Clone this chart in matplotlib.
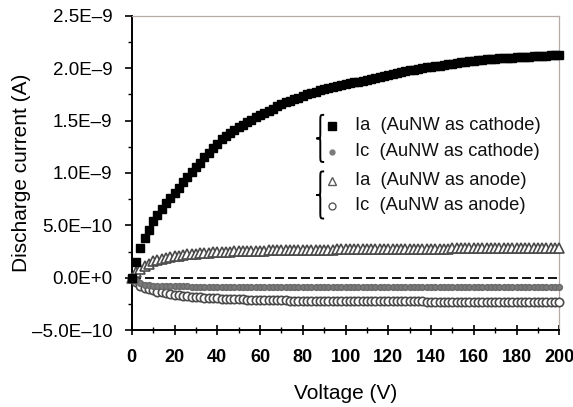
import numpy as np
import matplotlib
matplotlib.use("Agg")
import matplotlib.pyplot as plt
from matplotlib.path import Path
from matplotlib.patches import PathPatch

plt.rcParams['font.family'] = ['Liberation Sans', 'DejaVu Sans']

# Voltage, every 2 V
voltage = np.arange(0, 201, 2)

# Currents in units of 1E-10 A
ia_cathode = [0.0, 1.5, 2.8, 3.75, 4.6, 5.4, 6.0, 6.6, 7.1, 7.6,
              8.1, 8.6, 9.1, 9.6, 10.1, 10.6, 11.0, 11.5, 11.95, 12.4,
              12.8, 13.2, 13.5, 13.8, 14.1, 14.35, 14.6, 14.85, 15.1, 15.3,
              15.5, 15.7, 15.9, 16.1, 16.35, 16.55, 16.75, 16.9, 17.05, 17.2,
              17.35, 17.5, 17.6, 17.75, 17.9, 18.0, 18.1, 18.2, 18.3, 18.4,
              18.5, 18.6, 18.65, 18.7, 18.8, 18.9, 19.0, 19.1, 19.2, 19.3,
              19.4, 19.45, 19.55, 19.6, 19.7, 19.8, 19.85, 19.9, 20.0, 20.1,
              20.15, 20.2, 20.25, 20.3, 20.4, 20.45, 20.5, 20.55, 20.6, 20.65,
              20.7, 20.75, 20.8, 20.85, 20.9, 20.92, 20.95, 20.98, 21.0, 21.02,
              21.05, 21.07, 21.1, 21.12, 21.14, 21.16, 21.18, 21.2, 21.22, 21.24,
              21.25]

ic_cathode = [0.0, -0.35, -0.55, -0.65, -0.72, -0.76, -0.78, -0.8, -0.81, -0.82,
              -0.82, -0.83, -0.83, -0.83, -0.84, -0.84, -0.84, -0.84, -0.84, -0.84,
              -0.85, -0.85, -0.85, -0.85, -0.85, -0.85, -0.85, -0.85, -0.85, -0.85,
              -0.85, -0.85, -0.85, -0.85, -0.85, -0.85, -0.85, -0.85, -0.86, -0.86,
              -0.86, -0.86, -0.86, -0.86, -0.86, -0.86, -0.86, -0.86, -0.86, -0.86,
              -0.86, -0.86, -0.86, -0.86, -0.86, -0.86, -0.86, -0.86, -0.86, -0.86,
              -0.86, -0.86, -0.86, -0.86, -0.86, -0.86, -0.86, -0.86, -0.87, -0.87,
              -0.87, -0.87, -0.87, -0.87, -0.87, -0.87, -0.87, -0.87, -0.87, -0.87,
              -0.87, -0.87, -0.87, -0.87, -0.87, -0.87, -0.87, -0.87, -0.87, -0.87,
              -0.87, -0.87, -0.87, -0.87, -0.87, -0.87, -0.87, -0.87, -0.87, -0.87,
              -0.87]

ia_anode = [0.0, 0.5, 0.85, 1.15, 1.35, 1.55, 1.7, 1.8, 1.9, 2.0,
            2.05, 2.12, 2.18, 2.23, 2.27, 2.31, 2.34, 2.37, 2.4, 2.42,
            2.44, 2.46, 2.48, 2.5, 2.51, 2.53, 2.54, 2.55, 2.56, 2.57,
            2.58, 2.59, 2.6, 2.61, 2.62, 2.62, 2.63, 2.64, 2.64, 2.65,
            2.66, 2.66, 2.67, 2.67, 2.68, 2.68, 2.69, 2.69, 2.7, 2.7,
            2.71, 2.71, 2.72, 2.72, 2.72, 2.73, 2.73, 2.73, 2.74, 2.74,
            2.74, 2.75, 2.75, 2.75, 2.76, 2.76, 2.76, 2.77, 2.77, 2.77,
            2.77, 2.78, 2.78, 2.78, 2.78, 2.79, 2.79, 2.79, 2.79, 2.8,
            2.8, 2.8, 2.8, 2.8, 2.81, 2.81, 2.81, 2.81, 2.81, 2.82,
            2.82, 2.82, 2.82, 2.82, 2.83, 2.83, 2.83, 2.83, 2.83, 2.84,
            2.84]

ic_anode = [0.0, -0.45, -0.75, -0.95, -1.1, -1.22, -1.32, -1.41, -1.49, -1.56,
            -1.62, -1.68, -1.73, -1.77, -1.81, -1.85, -1.88, -1.91, -1.94, -1.96,
            -1.98, -2.0, -2.02, -2.04, -2.05, -2.07, -2.08, -2.09, -2.1, -2.11,
            -2.12, -2.13, -2.14, -2.15, -2.16, -2.16, -2.17, -2.18, -2.18, -2.19,
            -2.19, -2.2, -2.2, -2.21, -2.21, -2.22, -2.22, -2.22, -2.23, -2.23,
            -2.23, -2.24, -2.24, -2.24, -2.24, -2.25, -2.25, -2.25, -2.25, -2.26,
            -2.26, -2.26, -2.26, -2.26, -2.27, -2.27, -2.27, -2.27, -2.27, -2.28,
            -2.28, -2.28, -2.28, -2.28, -2.28, -2.29, -2.29, -2.29, -2.29, -2.29,
            -2.29, -2.3, -2.3, -2.3, -2.3, -2.3, -2.3, -2.3, -2.31, -2.31,
            -2.31, -2.31, -2.31, -2.31, -2.31, -2.31, -2.32, -2.32, -2.32, -2.32,
            -2.32]

x_ticks = list(range(0, 201, 20))
y_ticks = [-5e-10, 0, 5e-10, 1e-9, 1.5e-9, 2e-9, 2.5e-9]
y_labels = ["\u20135.0E\u201310", "0.0E+0", "5.0E\u201310", "1.0E\u20139",
            "1.5E\u20139", "2.0E\u20139", "2.5E\u20139"]

legend_labels = ["Ia  (AuNW as cathode)", "Ic  (AuNW as cathode)",
                 "Ia  (AuNW as anode)", "Ic  (AuNW as anode)"]

scale = 1e-10

fig = plt.figure(figsize=(5.73, 4.07), dpi=100)
ax = fig.add_axes([0.230, 0.189, 0.746, 0.772])

ax.axhline(0, color='black', lw=1.3, dashes=(5, 2.2), zorder=1)

ax.plot(voltage, np.array(ic_anode) * scale, 'o', ms=6, mfc='white',
        mec='#4a4a4a', mew=1.2, zorder=3, clip_on=False)
ax.plot(voltage, np.array(ic_cathode) * scale, 'o', ms=4.2, color='#7a7a7a',
        mec='#6a6a6a', zorder=3, clip_on=False)
ax.plot(voltage, np.array(ia_anode) * scale, '^', ms=6.5, mfc='white',
        mec='#4a4a4a', mew=1.2, zorder=3, clip_on=False)
ax.plot(voltage, np.array(ia_cathode) * scale, 's', ms=6, color='black',
        zorder=4, clip_on=False)

ax.set_xlim(0, 200)
ax.set_ylim(-5e-10, 2.5e-9)
ax.set_xticks(x_ticks)
ax.set_xticks(range(10, 200, 20), minor=True)
ax.set_yticks(y_ticks)
ax.set_yticklabels(y_labels)
ax.set_yticks(np.arange(-2.5e-10, 2.5e-9, 5e-10), minor=True)

ax.tick_params(axis='y', which='major', direction='out', length=5, width=1.2,
               labelsize=13.5, pad=9)
ax.tick_params(axis='y', which='minor', direction='out', length=3, width=1)
ax.tick_params(axis='x', which='major', direction='inout', length=7, width=1.2,
               labelsize=13, pad=10)
ax.tick_params(axis='x', which='minor', direction='inout', length=5, width=1)
for lbl in ax.get_xticklabels():
    lbl.set_fontweight('bold')

for side in ['left', 'bottom']:
    ax.spines[side].set_linewidth(1.4)
    ax.spines[side].set_color('black')
for side in ['top', 'right']:
    ax.spines[side].set_linewidth(0.9)
    ax.spines[side].set_color('#b5aaa5')

ax.set_xlabel('Voltage (V)', fontsize=15, labelpad=13)
ax.set_ylabel('Discharge current (A)', fontsize=15, va='center')
ax.yaxis.set_label_coords(-0.258, 0.5)

# hand-made legend
rows_y = [0.650, 0.567, 0.475, 0.395]
mk = [dict(marker='s', ms=5.5, color='black'),
      dict(marker='o', ms=3.5, color='#7a7a7a'),
      dict(marker='^', ms=5.5, mfc='white', mec='#5a5a5a', mew=1.0),
      dict(marker='o', ms=5, mfc='white', mec='#5a5a5a', mew=1.0)]
for y, label, style in zip(rows_y, legend_labels, mk):
    ax.plot([0.468], [y], transform=ax.transAxes, linestyle='none', **style)
    ax.text(0.522, y, label, transform=ax.transAxes, fontsize=13.2,
            va='center', ha='left', color='#111111')


def brace(ax, x, y0, y1, w):
    ym = (y0 + y1) / 2
    h = y1 - y0
    xc = x + w / 2
    verts = [(x + w, y1), (xc, y1), (xc, y1), (xc, y1 - 0.15 * h),
             (xc, ym + 0.1 * h),
             (xc, ym), (xc, ym), (x, ym),
             (xc, ym), (xc, ym), (xc, ym - 0.1 * h),
             (xc, y0 + 0.15 * h),
             (xc, y0), (xc, y0), (x + w, y0)]
    codes = [Path.MOVETO, Path.CURVE4, Path.CURVE4, Path.CURVE4,
             Path.LINETO,
             Path.CURVE4, Path.CURVE4, Path.CURVE4,
             Path.CURVE4, Path.CURVE4, Path.CURVE4,
             Path.LINETO,
             Path.CURVE4, Path.CURVE4, Path.CURVE4]
    ax.add_patch(PathPatch(Path(verts, codes), transform=ax.transAxes,
                           fill=False, lw=1.4, edgecolor='black'))


brace(ax, 0.432, 0.535, 0.685, 0.018)
brace(ax, 0.432, 0.355, 0.505, 0.018)

fig.savefig('out.png', dpi=100)
